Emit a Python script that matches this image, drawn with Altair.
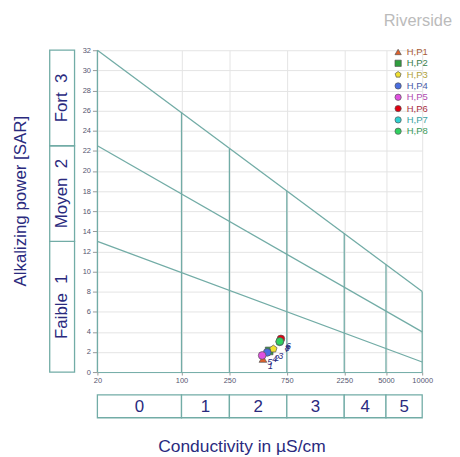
import altair as alt
import pandas as pd

# ---- data ----
series = ["H,P1", "H,P2", "H,P3", "H,P4", "H,P5", "H,P6", "H,P7", "H,P8"]
point_num = ["1", "2", "3", "4", "5", "6", "7", "8"]
point_cond = [475, 535, 580, 515, 468, 670, 655, 655]
point_sar = [1.3, 2.1, 2.3, 1.95, 1.65, 3.3, 3.0, 3.05]
point_colors = ["#e0602a", "#2e9e3e", "#f0e030", "#4a6ee0", "#e050e0", "#e00010", "#30d0d0", "#30d060"]
legend_text_colors = ["#a85a34", "#3a7d4a", "#b0a23a", "#4a5ca8", "#b04cb0", "#a8303e", "#3a9fa0", "#3a9a5a"]
pentagon = "M0,-1L0.951,-0.309L0.588,0.809L-0.588,0.809L-0.951,-0.309Z"
point_shapes = ["triangle-up", "square", pentagon, "circle", "circle", "circle", "circle", "circle"]

line_names = ["S1/S2", "S2/S3", "S3/S4"]
line_cond_start = [20, 20, 20]
line_cond_end = [10000, 10000, 10000]
line_sar_start = [13, 22.5, 32]
line_sar_end = [1, 4, 8]

class_cond = [20, 100, 250, 750, 2250, 5000, 10000]
class_top_sar = [32, 25.8, 22.2, 18.0, 13.8, 10.7, 8]
class_labels = ["0", "1", "2", "3", "4", "5"]

sar_bounds = [0, 13, 22.5, 32]
sar_labels = ["Faible\u00a0\u00a01", "Moyen\u00a0\u00a02", "Fort\u00a0\u00a03"]

y_ticks = [0, 2, 4, 6, 8, 10, 12, 14, 16, 18, 20, 22, 24, 26, 28, 30, 32]

# ---- tables ----
pts = pd.DataFrame({"series": series, "num": point_num, "cond": point_cond, "sar": point_sar})
lines = pd.DataFrame({
    "line": line_names + line_names,
    "cond": line_cond_start + line_cond_end,
    "sar": line_sar_start + line_sar_end,
})
verts = pd.DataFrame({"cond": class_cond, "top": class_top_sar})
xboxes = pd.DataFrame({"lo": class_cond[:-1], "hi": class_cond[1:], "label": class_labels})
yboxes = pd.DataFrame({"lo": sar_bounds[:-1], "hi": sar_bounds[1:], "label": sar_labels})
ttl = pd.DataFrame({"t": ["Riverside"]})

TEAL = "#72aca6"
NAVY = "#2a2a7e"
FONT = "Liberation Sans"

xs = alt.Scale(type="log", domain=[20, 10000], nice=False)
ys = alt.Scale(domain=[0, 32], nice=False, zero=False)
xaxis = alt.Axis(values=class_cond, format=".0f", title="Conductivity in µS/cm", grid=True, gridColor="#e4e4e4",
                 domainColor=TEAL, tickColor="#999", tickSize=3, labelPadding=2,
                 labelFontSize=7.5, labelColor="#555570", labelFont=FONT, labelFlush=False,
                 titleFont=FONT, titleFontSize=17.5, titleFontWeight="normal", titleColor=NAVY,
                 titleX=145, titleY=80, titleBaseline="alphabetic", titleAlign="center")
yaxis = alt.Axis(values=y_ticks, title="Alkalizing power [SAR]", grid=True, gridColor="#e4e4e4",
                 domain=False, tickColor="#999", tickSize=5, labelPadding=2,
                 labelFontSize=7.5, labelColor="#555570", labelFont=FONT,
                 titleFont=FONT, titleFontSize=17, titleFontWeight="normal", titleColor=NAVY,
                 titleX=-72.5, titleY=151.5, titleAngle=270, titleBaseline="alphabetic", titleAlign="center")


def X(f):
    return alt.X(f, type="quantitative", scale=xs, axis=xaxis)


def Y(f):
    return alt.Y(f, type="quantitative", scale=ys, axis=yaxis)


diag = alt.Chart(lines).mark_line(color=TEAL, strokeWidth=1.3).encode(
    x=X("cond"), y=Y("sar"), detail="line:N")

vrules = alt.Chart(verts).transform_calculate(base="0").mark_rule(color=TEAL, strokeWidth=1.3).encode(
    x=X("cond"), y=Y("base"), y2="top:Q")

xbox = alt.Chart(xboxes).mark_rect(fill="white", stroke=TEAL, strokeWidth=1.3).encode(
    x=X("lo"), x2="hi:Q", y=alt.value(347), y2=alt.value(370))
xbox_txt = alt.Chart(xboxes).transform_calculate(mid="sqrt(datum.lo*datum.hi)").mark_text(
    font=FONT, fontSize=17, color=NAVY, baseline="middle", align="center").encode(
    x=X("mid"), y=alt.value(359), text="label:N")

ybox = alt.Chart(yboxes).mark_rect(fill="white", stroke=TEAL, strokeWidth=1.3).encode(
    y=Y("lo"), y2="hi:Q", x=alt.value(-48), x2=alt.value(-23))
ybox_txt = alt.Chart(yboxes).transform_calculate(mid="(datum.lo+datum.hi)/2").mark_text(
    font=FONT, fontSize=17, color=NAVY, baseline="middle", align="center", angle=270).encode(
    y=Y("mid"), x=alt.value(-36), text="label:N")

color_expr = "[{}][indexof([{}], datum.value)]".format(
    ",".join("'%s'" % c for c in legend_text_colors), ",".join("'%s'" % s for s in series))

legend = alt.Legend(title=None, orient="none", legendX=298, legendY=-3, symbolSize=40,
                    labelFontSize=9.5, labelFont=FONT, rowPadding=0.4, labelOffset=4,
                    symbolStrokeColor="#555", symbolStrokeWidth=0.7,
                    labelColor=alt.ExprRef(color_expr))

points = alt.Chart(pts).mark_point(filled=True, size=60, stroke="#555", strokeWidth=0.7, opacity=1).encode(
    x=X("cond"), y=Y("sar"),
    color=alt.Color("series:N", scale=alt.Scale(domain=series, range=point_colors), legend=legend),
    shape=alt.Shape("series:N", scale=alt.Scale(domain=series, range=point_shapes), legend=legend),
    order=alt.Order("num:Q"))

plabels = alt.Chart(pts).mark_text(font=FONT, fontSize=9, color=NAVY, align="left", dx=5, dy=7,
                                   fontStyle="italic").encode(
    x=X("cond"), y=Y("sar"), text="num:N")

title = alt.Chart(ttl).mark_text(font=FONT, fontSize=16.5, color="#bbbbbb", align="right",
                                 baseline="alphabetic").encode(
    x=alt.value(357), y=alt.value(-24), text="t:N")

chart = alt.layer(diag, vrules, xbox, xbox_txt, ybox, ybox_txt, plabels, points, title).properties(
    width=327, height=324,
    autosize=alt.AutoSizeParams(type="none"),
    padding={"left": 90, "top": 41, "right": 30, "bottom": 82},
).configure_view(stroke=None)

chart.save("out.html", embed_options={"renderer": "svg", "actions": False})
